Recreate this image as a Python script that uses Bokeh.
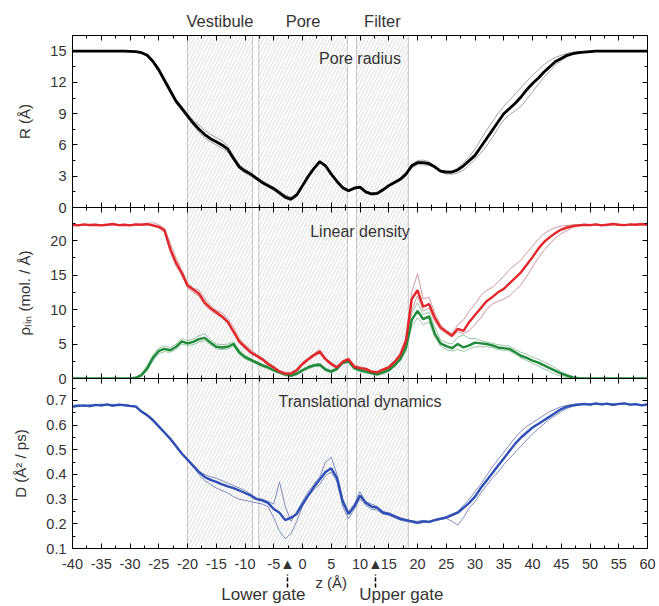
from bokeh.plotting import figure
from bokeh.layouts import column
from bokeh.models import Range1d, LinearAxis, SingleIntervalTicker, FixedTicker, Label
from bokeh.embed import file_html
from bokeh.resources import INLINE

# ---------------- data ----------------
z = list(range(-40, 61))
x_tick_values = list(range(-40, 61, 5))

region_names = ["Vestibule", "Pore", "Filter"]
region_left = [-20.0, -7.6, 9.4]
region_right = [-8.7, 7.8, 18.4]

gate_names = ["Lower gate", "Upper gate"]
gate_z = [-2.6, 12.7]
gate_label_shift = [-4.2, 4.5]
z_label_pos = 5

r_mean = [15.0]*10 + [
    14.98, 14.95, 14.85, 14.6, 14.0, 13.2, 12.2, 11.2, 10.2, 9.5,
    8.8, 8.1, 7.5, 7.0, 6.6, 6.3, 6.0, 5.6, 4.7, 3.9,
    3.5, 3.2, 2.8, 2.4, 2.1, 1.8, 1.4, 1.0, 0.8, 1.2,
    2.1, 3.0, 3.75, 4.4, 4.0, 3.2, 2.5, 1.9, 1.6, 1.85,
    1.95, 1.5, 1.3, 1.35, 1.7, 2.1, 2.4, 2.7, 3.2, 4.0,
    4.3, 4.3, 4.2, 3.9, 3.5, 3.4, 3.4, 3.6, 4.0, 4.5,
    5.0, 5.8, 6.6, 7.4, 8.2, 9.0, 9.5, 10.0, 10.6, 11.3,
    11.9, 12.4, 13.0, 13.5, 14.0, 14.3, 14.6, 14.75, 14.85, 14.9,
    14.95] + [15.0]*10
r_run_a = [15.0]*10 + [
    15.0, 14.97, 14.9, 14.7, 14.15, 13.4, 12.4, 11.4, 10.4, 9.7,
    9.0, 8.4, 7.9, 7.4, 7.0, 6.7, 6.4, 5.9, 5.0, 4.1,
    3.7, 3.35, 2.95, 2.55, 2.25, 1.95, 1.6, 1.2, 1.0, 1.35,
    2.2, 3.1, 3.8, 4.45, 4.1, 3.3, 2.6, 2.0, 1.7, 1.95,
    2.0, 1.6, 1.4, 1.45, 1.8, 2.2, 2.5, 2.8, 3.3, 4.1,
    4.5, 4.55, 4.4, 4.0, 3.6, 3.5, 3.5, 3.8, 4.3, 4.9,
    5.6, 6.5, 7.4, 8.2, 9.0, 9.7, 10.3, 10.9, 11.5, 12.1,
    12.7, 13.2, 13.7, 14.1, 14.4, 14.6, 14.8, 14.9, 14.95, 14.97] + [15.0]*11
r_run_b = [15.0]*10 + [
    14.97, 14.93, 14.8, 14.5, 13.9, 13.0, 12.0, 11.0, 10.0, 9.3,
    8.6, 7.9, 7.2, 6.7, 6.3, 6.0, 5.7, 5.3, 4.6, 3.7,
    3.3, 3.0, 2.65, 2.25, 1.95, 1.65, 1.25, 0.85, 0.65, 1.05,
    1.95, 2.85, 3.6, 4.3, 3.9, 3.1, 2.4, 1.8, 1.5, 1.75,
    1.85, 1.4, 1.2, 1.25, 1.6, 2.0, 2.3, 2.6, 3.1, 3.8,
    4.1, 4.1, 4.05, 3.8, 3.4, 3.2, 3.2, 3.3, 3.6, 4.1,
    4.6, 5.2, 5.9, 6.7, 7.6, 8.4, 8.9, 9.3, 9.7, 10.4,
    11.1, 11.8, 12.5, 13.1, 13.7, 14.1, 14.45, 14.7, 14.8, 14.88,
    14.93, 14.97] + [15.0]*9

rho_total_mean = [
    22.3, 22.2, 22.35, 22.25, 22.3, 22.2, 22.3, 22.4, 22.25, 22.3,
    22.2, 22.35, 22.3, 22.4, 22.2, 22.0, 21.5, 18.8, 16.8, 15.3,
    13.5, 12.9, 12.3, 11.0, 10.2, 9.6, 9.0, 8.2, 6.8, 5.4,
    4.6, 3.8, 3.3, 2.8, 2.1, 1.6, 1.0, 0.7, 0.7, 1.2,
    2.1, 2.8, 3.4, 3.9, 2.8, 2.1, 1.6, 2.4, 2.8, 1.7,
    1.5, 1.4, 1.0, 0.9, 1.3, 1.6, 2.4, 3.4, 5.5, 11.5,
    12.8, 10.4, 10.8, 8.8, 7.4, 6.8, 6.2, 7.2, 6.9, 8.2,
    9.2, 10.2, 11.2, 11.8, 12.5, 13.0, 13.8, 14.6, 15.4, 16.5,
    17.6, 18.8, 19.8, 20.5, 21.1, 21.6, 21.9, 22.1, 22.2, 22.3,
    22.25, 22.35, 22.2, 22.3, 22.4, 22.3, 22.25, 22.35, 22.3, 22.4,
    22.3]
rho_total_a = [
    22.4, 22.3, 22.2, 22.4, 22.35, 22.3, 22.25, 22.45, 22.3, 22.35,
    22.3, 22.4, 22.35, 22.5, 22.6, 22.3, 21.8, 19.6, 17.5, 15.8,
    13.9, 13.1, 12.8, 11.6, 10.6, 9.9, 9.5, 8.7, 7.4, 5.8,
    4.9, 4.2, 3.5, 3.0, 2.4, 1.8, 1.2, 0.9, 0.9, 1.4,
    2.3, 3.0, 3.6, 4.2, 3.0, 2.3, 1.8, 2.6, 3.0, 1.9,
    1.7, 1.5, 1.1, 1.0, 1.4, 1.8, 2.6, 3.6, 6.0, 12.5,
    15.2, 11.5, 11.8, 9.5, 7.8, 7.0, 6.5, 7.8, 8.5, 9.8,
    10.8, 12.0, 12.8, 13.2, 14.0, 14.8, 15.8, 16.5, 17.2, 18.2,
    19.2, 20.2, 21.0, 21.5, 21.9, 22.1, 22.2, 22.3, 22.35, 22.3,
    22.2, 22.4, 22.3, 22.35, 22.3, 22.4, 22.2, 22.3, 22.4, 22.35,
    22.3]
rho_total_b = [
    22.2, 22.3, 22.25, 22.2, 22.35, 22.25, 22.3, 22.3, 22.2, 22.25,
    22.3, 22.25, 22.2, 22.3, 22.1, 21.8, 21.2, 18.3, 16.3, 15.0,
    13.2, 12.5, 11.9, 10.6, 9.9, 9.3, 8.8, 8.0, 6.7, 5.1,
    4.3, 3.6, 3.1, 2.6, 2.0, 1.4, 0.8, 0.5, 0.5, 1.0,
    1.9, 2.6, 3.2, 3.6, 2.6, 1.9, 1.4, 2.2, 2.6, 1.5,
    1.3, 1.2, 0.9, 0.8, 1.2, 1.4, 2.2, 3.2, 5.0, 10.0,
    12.0, 9.8, 10.2, 8.3, 7.1, 6.5, 6.0, 6.8, 6.5, 7.0,
    7.8, 8.8, 10.0, 10.8, 11.2, 11.5, 12.0, 12.8, 13.6, 14.8,
    16.2, 17.5, 18.6, 19.5, 20.4, 21.0, 21.5, 21.9, 22.1, 22.2,
    22.3, 22.25, 22.3, 22.2, 22.35, 22.25, 22.3, 22.2, 22.3, 22.25,
    22.3]

rho_part_mean = [0.0]*10 + [
    0.0, 0.1, 0.5, 1.5, 3.0, 4.0, 4.3, 4.1, 4.6, 5.4,
    5.1, 5.3, 5.7, 5.9, 5.2, 4.6, 4.5, 4.6, 5.0, 3.8,
    3.1, 2.7, 2.3, 1.9, 1.6, 1.2, 0.9, 0.6, 0.4, 0.7,
    1.2, 1.6, 1.9, 2.0, 1.3, 1.0, 1.4, 2.3, 2.5, 1.5,
    1.2, 1.0, 0.8, 0.6, 0.9, 1.2, 1.9, 2.8, 4.5, 8.5,
    9.8, 8.6, 9.0, 6.5, 5.1, 4.7, 4.4, 5.0, 4.5, 4.8,
    5.2, 5.1, 5.0, 4.8, 4.5, 4.4, 4.3, 3.8, 3.3, 3.0,
    2.6, 2.3, 1.9, 1.5, 1.1, 0.7, 0.4, 0.15, 0.05, 0.0] + [0.0]*11
rho_part_a = [0.0]*10 + [
    0.0, 0.15, 0.7, 1.9, 3.4, 4.4, 4.7, 4.5, 5.0, 5.8,
    5.5, 5.7, 6.2, 6.5, 5.6, 5.0, 4.9, 5.0, 5.3, 4.1,
    3.4, 2.9, 2.5, 2.1, 1.8, 1.4, 1.1, 0.8, 0.6, 0.9,
    1.4, 1.8, 2.1, 2.2, 1.5, 1.2, 1.6, 2.5, 2.7, 1.7,
    1.4, 1.2, 1.0, 0.8, 1.1, 1.4, 2.1, 3.0, 5.0, 9.5,
    11.0, 9.3, 9.6, 7.5, 5.6, 5.2, 5.0, 6.0, 6.3, 5.8,
    5.8, 5.5, 5.3, 5.1, 4.9, 4.8, 4.7, 4.2, 3.8, 3.5,
    3.1, 2.8, 2.4, 2.0, 1.5, 1.0, 0.6, 0.3, 0.1, 0.02] + [0.0]*11
rho_part_b = [0.0]*10 + [
    0.0, 0.05, 0.3, 1.1, 2.6, 3.6, 3.9, 3.8, 4.2, 5.0,
    4.8, 4.9, 5.3, 5.5, 4.9, 4.3, 4.2, 4.3, 4.7, 3.5,
    2.8, 2.5, 2.1, 1.7, 1.4, 1.0, 0.7, 0.4, 0.25, 0.5,
    1.0, 1.4, 1.7, 1.8, 1.1, 0.8, 1.2, 2.1, 2.3, 1.3,
    1.0, 0.8, 0.6, 0.45, 0.7, 1.0, 1.7, 2.6, 4.0, 7.5,
    8.8, 7.8, 8.2, 6.0, 4.7, 4.2, 4.0, 4.2, 3.9, 4.3,
    4.6, 4.6, 4.6, 4.5, 4.2, 4.1, 4.0, 3.5, 3.0, 2.6,
    2.2, 1.8, 1.4, 1.0, 0.6, 0.3, 0.1, 0.0, 0.0, 0.0] + [0.0]*11

d_mean = [
    0.675, 0.678, 0.680, 0.677, 0.682, 0.680, 0.684, 0.679, 0.683, 0.681,
    0.678, 0.676, 0.655, 0.64, 0.62, 0.595, 0.57, 0.545, 0.515, 0.485,
    0.46, 0.435, 0.41, 0.39, 0.378, 0.37, 0.36, 0.352, 0.345, 0.335,
    0.325, 0.315, 0.30, 0.295, 0.285, 0.26, 0.245, 0.215, 0.225, 0.24,
    0.28, 0.315, 0.35, 0.38, 0.41, 0.425, 0.385, 0.29, 0.24, 0.27,
    0.315, 0.285, 0.27, 0.265, 0.245, 0.24, 0.23, 0.22, 0.215, 0.21,
    0.205, 0.21, 0.208, 0.215, 0.22, 0.225, 0.235, 0.245, 0.265, 0.285,
    0.31, 0.345, 0.375, 0.405, 0.435, 0.465, 0.495, 0.525, 0.55, 0.57,
    0.59, 0.605, 0.62, 0.635, 0.65, 0.665, 0.675, 0.68, 0.683, 0.686,
    0.683, 0.688, 0.684, 0.687, 0.682, 0.686, 0.688, 0.683, 0.685, 0.680,
    0.684]
d_run_a = [
    0.680, 0.683, 0.676, 0.684, 0.679, 0.686, 0.681, 0.685, 0.678, 0.684,
    0.680, 0.672, 0.652, 0.636, 0.615, 0.59, 0.566, 0.54, 0.51, 0.482,
    0.458, 0.432, 0.41, 0.40, 0.39, 0.385, 0.375, 0.365, 0.355, 0.345,
    0.335, 0.32, 0.305, 0.30, 0.29, 0.28, 0.37, 0.27, 0.21, 0.25,
    0.29, 0.33, 0.36, 0.39, 0.45, 0.47, 0.40, 0.30, 0.25, 0.28,
    0.33, 0.29, 0.28, 0.27, 0.25, 0.245, 0.235, 0.225, 0.218, 0.212,
    0.21, 0.214, 0.21, 0.218, 0.224, 0.23, 0.24, 0.25, 0.275, 0.30,
    0.33, 0.36, 0.395, 0.43, 0.46, 0.49, 0.52, 0.55, 0.575, 0.595,
    0.61, 0.625, 0.64, 0.655, 0.665, 0.675, 0.68, 0.684, 0.688, 0.684,
    0.687, 0.683, 0.689, 0.685, 0.688, 0.683, 0.687, 0.684, 0.686, 0.682,
    0.686]
d_run_b = [
    0.672, 0.676, 0.679, 0.674, 0.680, 0.677, 0.681, 0.676, 0.680, 0.678,
    0.675, 0.673, 0.657, 0.643, 0.623, 0.598, 0.573, 0.548, 0.518, 0.488,
    0.46, 0.432, 0.40, 0.375, 0.36, 0.345, 0.335, 0.325, 0.31, 0.30,
    0.295, 0.29, 0.285, 0.28, 0.27, 0.225, 0.17, 0.14, 0.16, 0.21,
    0.27, 0.31, 0.34, 0.36, 0.395, 0.41, 0.37, 0.27, 0.22, 0.26,
    0.30, 0.275, 0.26, 0.255, 0.24, 0.235, 0.225, 0.215, 0.21, 0.205,
    0.20, 0.205, 0.205, 0.212, 0.218, 0.222, 0.21, 0.195, 0.225, 0.265,
    0.29, 0.325, 0.355, 0.385, 0.41, 0.44, 0.465, 0.49, 0.515, 0.54,
    0.565, 0.585, 0.605, 0.625, 0.64, 0.655, 0.668, 0.676, 0.68, 0.683,
    0.681, 0.685, 0.682, 0.684, 0.680, 0.684, 0.686, 0.681, 0.683, 0.679,
    0.682]

# ---------------- style ----------------
FONT = "Liberation Sans"
TXT = "#333333"
X0, X1 = -40, 60
FRAME_W = 575
JOINT = 10   # extra border below a panel so its "0" label is not cut


def hide_labels(ax):
    ax.major_label_text_font_size = "0px"
    ax.major_label_text_color = None
    ax.major_label_standoff = 0


def tick_axis(ticker):
    ax = LinearAxis(ticker=ticker)
    ax.major_tick_in = 5
    ax.major_tick_out = 0
    ax.minor_tick_in = 3
    ax.minor_tick_out = 0
    ax.axis_line_color = "black"
    ax.major_tick_line_color = "black"
    ax.minor_tick_line_color = "black"
    return ax


def text_axis(ticks, labels, size, standoff, minor=None):
    ax = LinearAxis(ticker=FixedTicker(ticks=ticks, minor_ticks=minor or []))
    ax.major_label_overrides = {t: s for t, s in zip(ticks, labels)}
    ax.axis_line_color = None
    ax.major_tick_line_color = None
    ax.major_tick_in = 0
    ax.major_tick_out = 0
    ax.minor_tick_in = 0
    ax.minor_tick_out = 0
    ax.minor_tick_line_color = None
    ax.major_label_text_font = FONT
    ax.major_label_text_font_size = size
    ax.major_label_text_color = TXT
    ax.major_label_standoff = standoff
    return ax


def make_panel(y0, y1, frame_h, b_top, b_bottom, interval, ylabel):
    p = figure(frame_width=FRAME_W, frame_height=frame_h,
               x_range=Range1d(X0, X1), y_range=Range1d(y0, y1),
               output_backend="svg", toolbar_location=None,
               x_axis_location=None, y_axis_location=None,
               min_border_left=72, min_border_right=10,
               min_border_top=b_top, min_border_bottom=b_bottom)
    p.grid.visible = False
    p.outline_line_color = "black"
    p.outline_line_width = 1
    p.background_fill_color = "white"
    p.border_fill_color = None

    for loc in ["above", "below"]:
        ax = tick_axis(SingleIntervalTicker(interval=5, num_minor_ticks=2))
        hide_labels(ax)
        p.add_layout(ax, loc)
    left = tick_axis(SingleIntervalTicker(interval=interval, num_minor_ticks=2))
    left.major_label_text_font = FONT
    left.major_label_text_font_size = "14.5px"
    left.major_label_text_color = TXT
    left.major_label_standoff = 6
    left.axis_label = ylabel
    left.axis_label_text_font = FONT
    left.axis_label_text_font_size = "15px"
    left.axis_label_text_font_style = "normal"
    left.axis_label_text_color = TXT
    left.axis_label_standoff = 14
    p.add_layout(left, "left")
    right = tick_axis(SingleIntervalTicker(interval=interval, num_minor_ticks=2))
    hide_labels(right)
    p.add_layout(right, "right")

    p.quad(left=region_left, right=region_right, bottom=y0, top=y1,
           fill_alpha=0, hatch_pattern="/", hatch_color="#cfcfcf",
           hatch_scale=7, hatch_weight=0.7,
           line_color="#c4c4c4", line_width=1)
    return p


def title(p, text, y):
    p.add_layout(Label(x=(X0 + X1) / 2, y=y, text=text, text_align="center",
                       text_baseline="middle", text_font=FONT,
                       text_font_size="16px", text_color=TXT))


# top panel: pore radius
p1 = make_panel(0, 16.5, 172, 35, JOINT, 3, "R (Å)")
p1.line(z, r_run_a, line_color="#9a9a9a", line_width=0.9)
p1.line(z, r_run_b, line_color="#9a9a9a", line_width=0.9)
p1.line(z, r_mean, line_color="black", line_width=2.8)
title(p1, "Pore radius", 14.3)
region_mid = [(a + b) / 2 for a, b in zip(region_left, region_right)]
p1.add_layout(text_axis(region_mid, region_names, "16.5px", 6), "above")

# middle panel: linear density
p2 = make_panel(0, 24.8, 171, 0, JOINT, 5, "ρₗᵢₙ (mol. / Å)")
p2.margin = (-JOINT, 0, 0, 0)
p2.line(z, rho_part_a, line_color="#8cbf98", line_width=0.9)
p2.line(z, rho_part_b, line_color="#8cbf98", line_width=0.9)
p2.line(z, rho_total_a, line_color="#cc8c8c", line_width=0.9)
p2.line(z, rho_total_b, line_color="#cc8c8c", line_width=0.9)
p2.line(z, rho_part_mean, line_color="#1e8a3a", line_width=2.4)
p2.line(z, rho_total_mean, line_color="#e3262b", line_width=2.4)
title(p2, "Linear density", 21.3)

# bottom panel: translational dynamics
p3 = make_panel(0.1, 0.789, 170, 0, 57, 0.1, "D (Å² / ps)")
p3.margin = (-JOINT, 0, 0, 0)
p3.line(z, d_run_a, line_color="#7080b8", line_width=0.9)
p3.line(z, d_run_b, line_color="#7080b8", line_width=0.9)
p3.line(z, d_mean, line_color="#2f4fb5", line_width=2.4)
title(p3, "Translational dynamics", 0.696)

# x tick labels plus the gate arrow heads
num_ticks = x_tick_values + gate_z
num_labels = [str(v) for v in x_tick_values] + ["▲"] * len(gate_z)
p3.add_layout(text_axis(num_ticks, num_labels, "14.5px", 7), "below")
# axis title, with the dashed gate arrow shafts as outward minor ticks
zax = text_axis([z_label_pos], ["z (Å)"], "15px", -14, minor=gate_z)
zax.minor_tick_out = 13
zax.minor_tick_line_color = "black"
zax.minor_tick_line_width = 1.5
zax.minor_tick_line_dash = "4 2"
p3.add_layout(zax, "below")
# gate names
gate_label_x = [g + s for g, s in zip(gate_z, gate_label_shift)]
p3.add_layout(text_axis(gate_label_x, gate_names, "17px", -9), "below")

layout = column(p1, p2, p3, spacing=0)
open("out.html", "w").write(file_html(layout, INLINE))
